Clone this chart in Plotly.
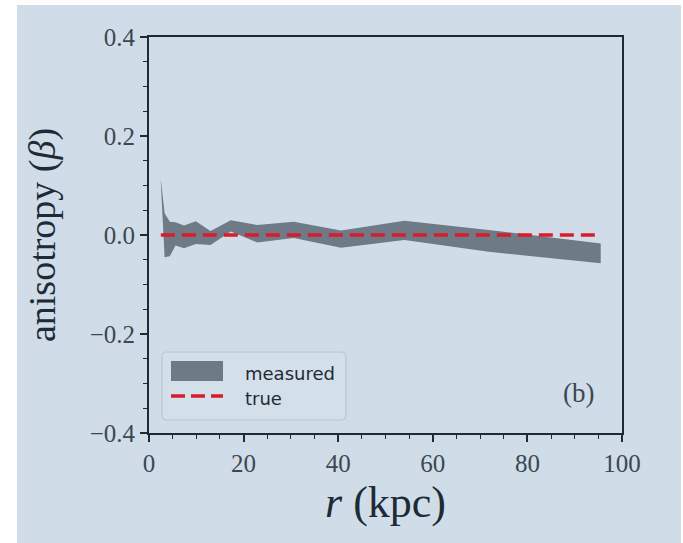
import plotly.graph_objects as go

# ---- data ----
r_kpc = [2.5, 3.3, 4.4, 5.6, 7.4, 9.9, 13.0, 17.3, 22.9, 30.6, 40.6, 54.0, 71.8, 95.5]
beta_upper = [0.112, 0.044, 0.027, 0.026, 0.019, 0.028, 0.008, 0.030, 0.020, 0.027, 0.009, 0.029, 0.010, -0.017]
beta_lower = [0.105, -0.045, -0.043, -0.021, -0.027, -0.018, -0.020, 0.007, -0.015, -0.006, -0.026, -0.010, -0.034, -0.057]
r_true = [2.5, 95.5]
beta_true = [0.0, 0.0]

x_ticks = [0, 20, 40, 60, 80, 100]
y_ticks = [-0.4, -0.2, 0.0, 0.2, 0.4]
y_tick_text = ["\u22120.4", "\u22120.2", "0.0", "0.2", "0.4"]

BG = "#d0dde8"
BAND = "#6e7b87"
RED = "#d81c2b"
SPINE = "#1e2b37"
TXT = "#3c4752"

W, H = 683, 543
L, R, T, B = 149, 61, 37, 110
PW, PH = W - L - R, H - T - B


def px(x):
    return (x - L) / PW


def py(y):
    return (H - B - y) / PH


fig = go.Figure()
fig.add_trace(go.Scatter(x=r_kpc, y=beta_lower, mode="lines", line=dict(width=0, color=BAND),
                         showlegend=False, hoverinfo="skip"))
fig.add_trace(go.Scatter(x=r_kpc, y=beta_upper, mode="lines", line=dict(width=0, color=BAND),
                         fill="tonexty", fillcolor=BAND, name="measured", showlegend=False))
fig.add_trace(go.Scatter(x=r_true, y=beta_true, mode="lines",
                         line=dict(color=RED, width=3.5, dash="14px,7px"), name="true", showlegend=False))

axis_common = dict(
    showgrid=False, zeroline=False, showline=True, linecolor=SPINE, linewidth=2,
    mirror=True, ticks="outside", ticklen=7, tickwidth=1.5, tickcolor=SPINE,
    tickfont=dict(family="Liberation Serif", size=25, color=TXT),
)

fig.update_xaxes(range=[0, 100], tickvals=x_ticks,
                 minor=dict(dtick=5, ticks="outside", ticklen=4, tickwidth=1.2, tickcolor=SPINE),
                 title=dict(text="<i>r</i> (kpc)", font=dict(family="Liberation Serif", size=44, color="#1e2a35"),
                            standoff=10),
                 **axis_common)
fig.update_yaxes(range=[-0.4, 0.4], tickvals=y_ticks, ticktext=y_tick_text,
                 minor=dict(dtick=0.05, ticks="outside", ticklen=4, tickwidth=1.2, tickcolor=SPINE),
                 title=dict(text="anisotropy (<i>\u03b2</i>)", font=dict(family="Liberation Serif", size=38, color="#1e2a35"),
                            standoff=22),
                 **axis_common)

shapes = [
    dict(type="rect", xref="paper", yref="paper", x0=px(17), x1=px(681), y0=py(543), y1=py(5),
         fillcolor=BG, line=dict(width=0), layer="below"),
]

# manual legend box with rounded corners
bx0, bx1, by0, by1 = 162, 346, 352, 420
rad = 5
rx, ry = rad / PW, rad / PH
X0, X1, Y0, Y1 = px(bx0), px(bx1), py(by1), py(by0)
path = (f"M {X0 + rx},{Y0} L {X1 - rx},{Y0} Q {X1},{Y0} {X1},{Y0 + ry} "
        f"L {X1},{Y1 - ry} Q {X1},{Y1} {X1 - rx},{Y1} "
        f"L {X0 + rx},{Y1} Q {X0},{Y1} {X0},{Y1 - ry} "
        f"L {X0},{Y0 + ry} Q {X0},{Y0} {X0 + rx},{Y0} Z")
shapes.append(dict(type="path", xref="paper", yref="paper", path=path,
                   fillcolor="#d3dfe9", line=dict(color="#b9c7d3", width=1.2), layer="above"))
shapes.append(dict(type="rect", xref="paper", yref="paper", x0=px(171), x1=px(223), y0=py(381), y1=py(361),
                   fillcolor=BAND, line=dict(width=0), layer="above"))
shapes.append(dict(type="line", xref="paper", yref="paper", x0=px(171), x1=px(223), y0=py(396), y1=py(396),
                   line=dict(color=RED, width=3.5, dash="14px,6px"), layer="above"))

annotations = [
    dict(xref="paper", yref="paper", x=px(243), y=py(373), text="measured", showarrow=False,
         xanchor="left", yanchor="middle", font=dict(family="DejaVu Sans", size=18, color="#1e2a35")),
    dict(xref="paper", yref="paper", x=px(243), y=py(398), text="true", showarrow=False,
         xanchor="left", yanchor="middle", font=dict(family="DejaVu Sans", size=18, color="#1e2a35")),
    dict(xref="paper", yref="paper", x=px(578), y=py(393), text="(b)", showarrow=False,
         xanchor="center", yanchor="middle", font=dict(family="Liberation Serif", size=27, color=TXT)),
]

fig.update_layout(
    width=W, height=H,
    margin=dict(l=L, r=R, t=T, b=B, autoexpand=False),
    paper_bgcolor="white", plot_bgcolor=BG,
    shapes=shapes, annotations=annotations,
    showlegend=False,
)

fig.write_html("out.html")
